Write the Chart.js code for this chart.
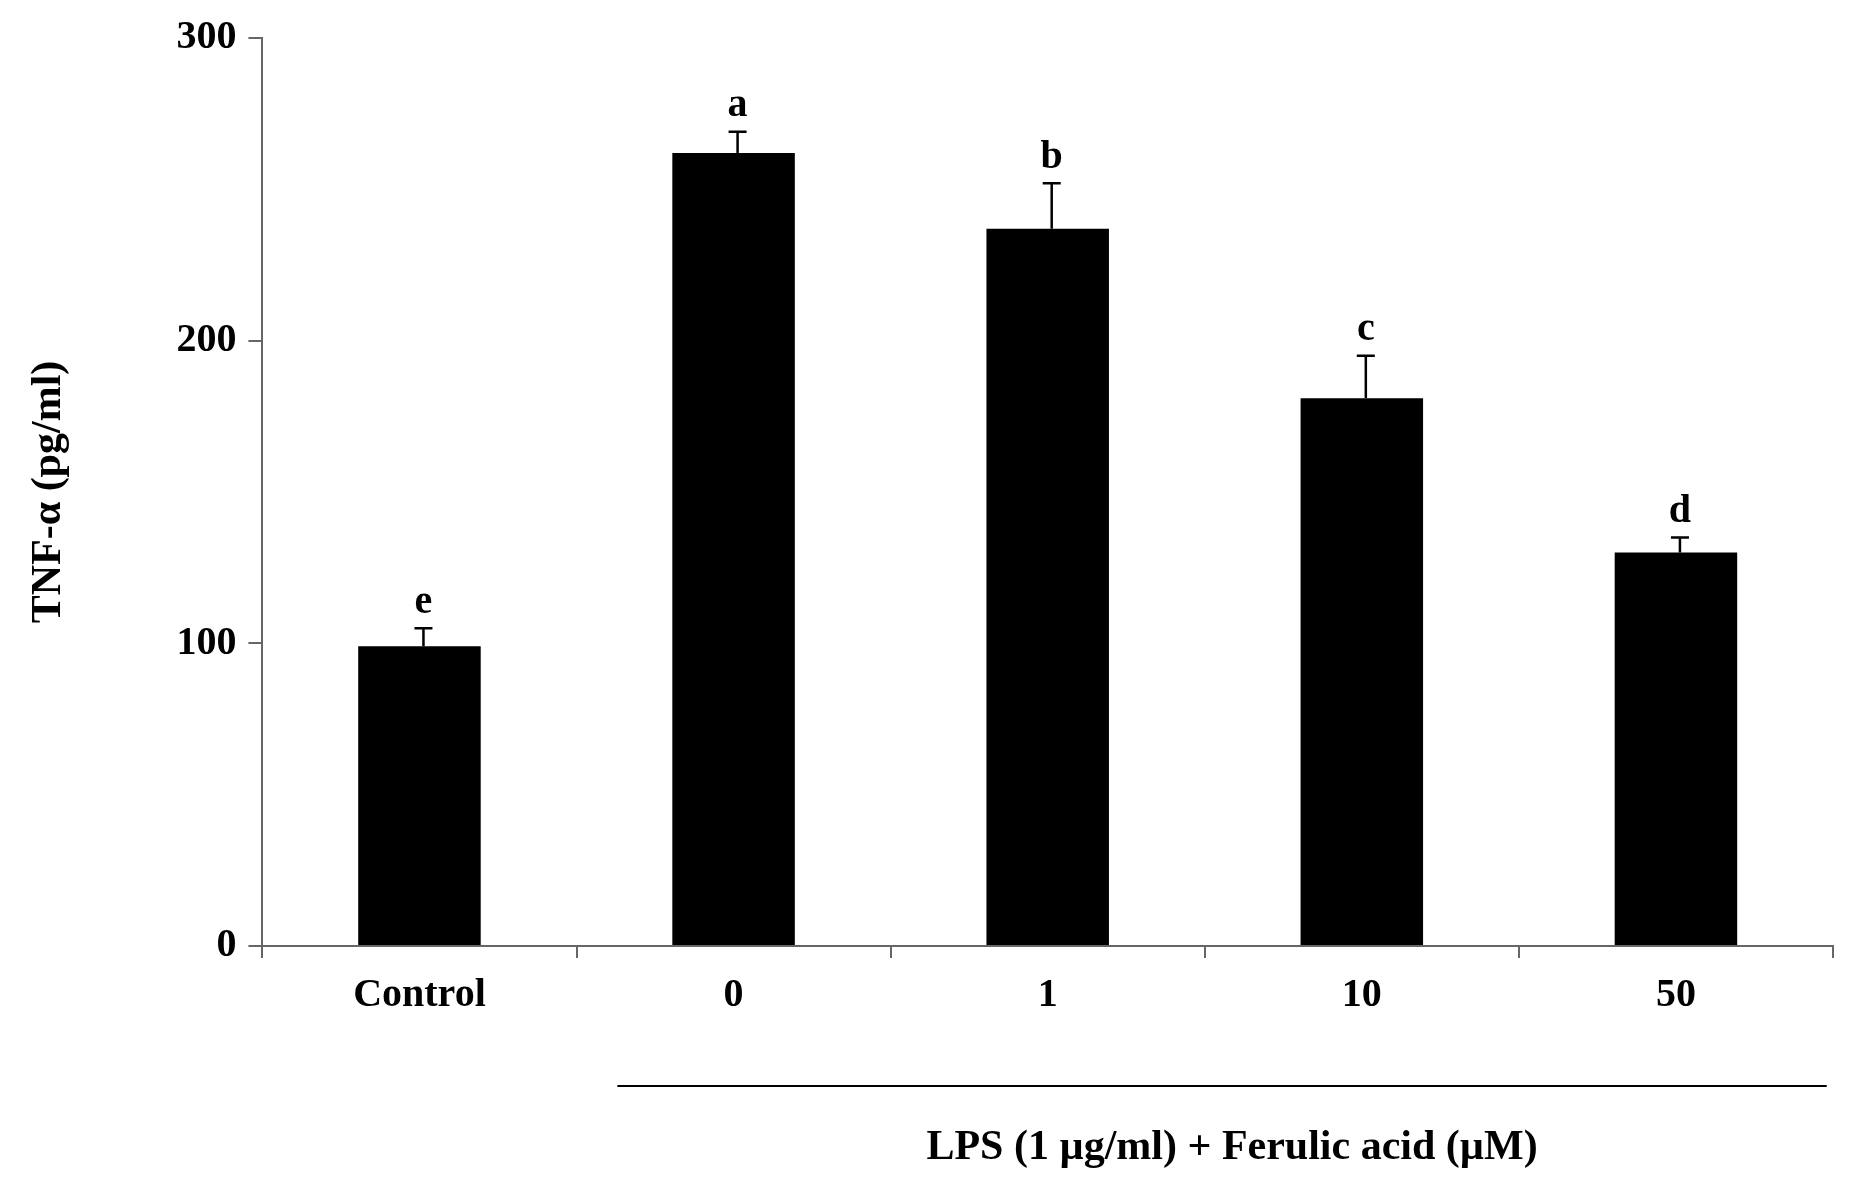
<!DOCTYPE html>
<html><head><meta charset="utf-8">
<script src="https://cdn.jsdelivr.net/npm/chart.js@4/dist/chart.umd.min.js"></script>
<style>body{margin:0;background:#fff}#w{width:1853px;height:1204px}</style>
</head><body><div id="w"><canvas id="c"></canvas></div>
<script>
const categories = ["Control","0","1","10","50"];
const values = [99, 262, 237, 181, 130];
const errors = [6, 7, 15, 14, 5];
const letters = ["e","a","b","c","d"];
const yTicks = [0,100,200,300];
const F = "'Liberation Serif','Times New Roman',serif";

const extras = {
  id:'extras',
  afterDatasetsDraw(chart){
    const {ctx, scales:{x,y}} = chart;
    ctx.save();
    ctx.strokeStyle='#000'; ctx.fillStyle='#000'; ctx.lineWidth=2.5;
    values.forEach((v,i)=>{
      const px=x.getPixelForValue(i)+4, top=y.getPixelForValue(v+errors[i]), base=y.getPixelForValue(v);
      ctx.beginPath(); ctx.moveTo(px,base); ctx.lineTo(px,top);
      ctx.moveTo(px-9,top); ctx.lineTo(px+9,top); ctx.stroke();
      ctx.font="bold 40px "+F; ctx.textAlign='center'; ctx.textBaseline='bottom';
      ctx.fillText(letters[i], px, top-6);
    });
    const step = x.getPixelForValue(1)-x.getPixelForValue(0);
    const x1 = x.getPixelForValue(1)-0.37*step, x2 = x.getPixelForValue(4)+0.48*step;
    const ly = y.bottom+140;
    ctx.lineWidth=2; ctx.beginPath(); ctx.moveTo(x1,ly); ctx.lineTo(x2,ly); ctx.stroke();
    ctx.font="bold 42px "+F; ctx.textAlign='center'; ctx.textBaseline='middle';
    ctx.fillText("LPS (1 µg/ml) + Ferulic acid (µM)", (x1+x2)/2+10, ly+62);
    ctx.restore();
  }
};

new Chart(document.getElementById('c'),{
  type:'bar',
  data:{labels:categories,datasets:[{data:values,backgroundColor:'#000',barPercentage:0.39,categoryPercentage:1}]},
  options:{
    responsive:true,maintainAspectRatio:false,animation:false,
    layout:{padding:{top:38,right:20,bottom:170,left:20}},
    plugins:{legend:{display:false},tooltip:{enabled:false}},
    scales:{
      x:{offset:true,grid:{offset:true,drawOnChartArea:false,drawTicks:true,tickLength:12,color:'#666',lineWidth:2},
         border:{color:'#666',width:2},
         ticks:{color:'#000',font:{family:F,size:40,weight:'bold'},padding:14}},
      y:{min:0,max:300,afterBuildTicks(s){s.ticks=yTicks.map(v=>({value:v}));},
         grid:{drawOnChartArea:false,tickLength:14,color:'#666',lineWidth:2},
         border:{color:'#666',width:2},
         ticks:{color:'#000',font:{family:F,size:40,weight:'bold'},padding:12},
         title:{display:true,text:'TNF-α (pg/ml)',color:'#000',font:{family:F,size:42,weight:'bold'},padding:{bottom:90}}}
    }
  },
  plugins:[extras]
});
</script></body></html>
